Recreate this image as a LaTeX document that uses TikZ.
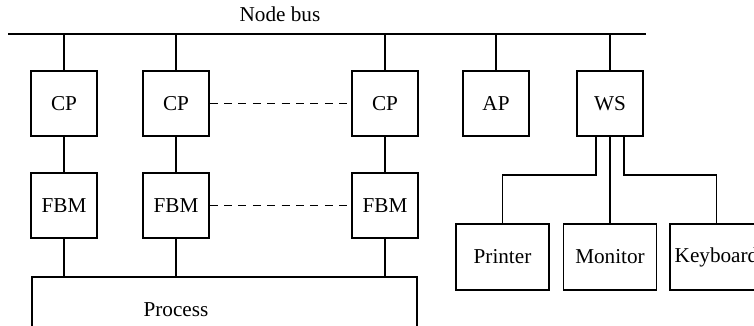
\documentclass[tikz,border=0pt]{standalone}
\usepackage{fontspec}
\setmainfont{Liberation Serif}
\usepackage{tikz}
\usetikzlibrary{arrows.meta,positioning,calc}

\begin{document}
\begin{tikzpicture}[x=0.5pt,y=-0.5pt,line width=0.6pt,
  every node/.style={font=\fontsize{10.6pt}{12pt}\selectfont},
  unit/.style={draw,minimum width=33pt,minimum height=32.5pt,inner sep=0pt},
  dev/.style={draw,minimum width=46.5pt,minimum height=33pt,inner sep=0pt},
  link/.style={dash pattern=on 4pt off 3.2pt}]
\useasboundingbox (0,0) rectangle (754,326);
\coordinate (busL) at (8,34);
\coordinate (busR) at (646,34);
\coordinate (ptop) at (0,277);
\coordinate (split) at (0,175);
\draw(busL)--(busR);
\node (bus) at (280,14) {Node bus};
\node[unit] (cp1) at (64,103.5) {CP};
\node[unit] (cp2) at (176,103.5) {CP};
\node[unit] (cp3) at (385,103.5) {CP};
\node[unit] (ap) at (496,103.5) {AP};
\node[unit] (ws) at (610,103.5) {WS};
\node[unit] (fbm1) at (64,205.5) {FBM};
\node[unit] (fbm2) at (176,205.5) {FBM};
\node[unit] (fbm3) at (385,205.5) {FBM};
\node[dev] (printer) at (502.5,257) {Printer};
\node[dev] (monitor) at (610,257) {Monitor};
\node[dev] (keyboard) at (716.5,257) {Keyboard};
\node (process) at (176,310) {Process};
\draw(32,340)|-(417,277)--(417,340);
\foreach \n in {cp1,cp2,cp3,ap,ws}
  \draw(\n.north)--(\n.north |- busL);
\foreach \n in {1,2,3}{
  \draw(cp\n)--(fbm\n);
  \draw(fbm\n.south)--(fbm\n.south |- ptop);}
\draw[link](cp2)--(cp3);
\draw[link](fbm2)--(fbm3);
\draw([xshift=-7pt]ws.south)|-(printer.north |- split)--(printer.north);
\draw(ws.south)--(monitor.north);
\draw([xshift=7pt]ws.south)|-(keyboard.north |- split)--(keyboard.north);
\end{tikzpicture}
\end{document}
